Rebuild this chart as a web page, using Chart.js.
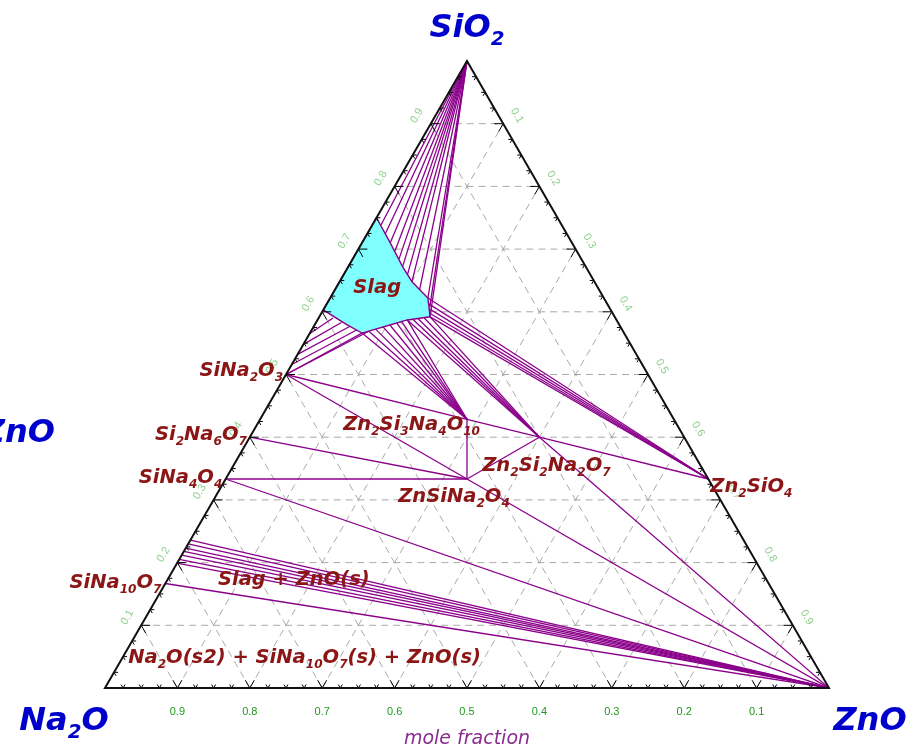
<!DOCTYPE html>
<html>
<head>
<meta charset="utf-8">
<script src="https://cdn.jsdelivr.net/npm/chart.js@4.4.1/dist/chart.umd.min.js"></script>
<style>
html,body{margin:0;padding:0;background:#fff;overflow:hidden;}
</style>
</head>
<body>
<canvas id="chart" width="922" height="749"></canvas>
<script>
// every composition is [ZnO, SiO2] in mole fraction, Na2O is what is left
const SIO2 = [0, 1];
const ZNO = [1, 0];
const SiNa2O3 = [0, 1/2];
const Si2Na6O7 = [0, 2/5];
const SiNa4O4 = [0, 1/3];
const SiNa10O7 = [0, 1/6];
const Zn2Si3Na4O10 = [2/7, 3/7];
const Zn2Si2Na2O7 = [0.4, 0.4];
const ZnSiNa2O4 = [1/3, 1/3];
const Zn2SiO4 = [2/3, 1/3];

// liquid (slag) field boundary
const slagBoundary = [
  [0, 0.75], [0.039, 0.71], [0.075, 0.672], [0.1, 0.648], [0.135, 0.622],
  [0.153, 0.592], [0.124, 0.587], [0.104, 0.579], [0.072, 0.566],
  [0.045, 0.579], [0, 0.603]
];

// tie line ends on the slag boundary, one list per solid they go to
const silicaTieEnds = [
  [0.012, 0.738], [0.025, 0.724], [0.039, 0.71], [0.052, 0.697], [0.064, 0.684],
  [0.075, 0.672], [0.088, 0.66], [0.1, 0.648], [0.117, 0.635], [0.135, 0.622],
  [0.145, 0.607], [0.153, 0.592]
];
const sina2o3TieEnds = [[0.072, 0.566], [0.08, 0.569]];
const zn2si3TieEnds = [
  [0.072, 0.566], [0.08, 0.569], [0.088, 0.572], [0.096, 0.576],
  [0.104, 0.579], [0.112, 0.582], [0.118, 0.584], [0.124, 0.587]
];
const zn2si2TieEnds = [[0.124, 0.587], [0.131, 0.588], [0.138, 0.589], [0.146, 0.59], [0.153, 0.592]];
const zn2sio4TieEnds = [[0.135, 0.622], [0.14, 0.613], [0.145, 0.605], [0.149, 0.598], [0.153, 0.592]];

// short ties from the lower slag edge back to the Na2O-SiO2 side
const slagSideTies = [
  [[0.02, 0.59], [0, 0.565]],
  [[0.035, 0.583], [0, 0.548]],
  [[0.05, 0.577], [0, 0.532]],
  [[0.062, 0.571], [0, 0.516]]
];

// Slag + ZnO(s): SiO2 of the liquid ends on the left side, all tied to ZnO
const slagZnoSilica = [0.199, 0.205, 0.212, 0.218, 0.223, 0.23, 0.236];

const compoundTies = [
  [SiNa2O3, Zn2Si3Na4O10],
  [SiNa2O3, ZnSiNa2O4],
  [Si2Na6O7, ZnSiNa2O4],
  [SiNa4O4, ZnSiNa2O4],
  [SiNa4O4, ZNO],
  [SiNa10O7, ZNO],
  [Zn2Si3Na4O10, ZnSiNa2O4],
  [Zn2Si3Na4O10, Zn2Si2Na2O7],
  [ZnSiNa2O4, Zn2Si2Na2O7],
  [ZnSiNa2O4, ZNO],
  [Zn2Si2Na2O7, ZNO],
  [Zn2Si2Na2O7, Zn2SiO4]
];

const gridSteps = [0.1, 0.2, 0.3, 0.4, 0.5, 0.6, 0.7, 0.8, 0.9];
const tickStep = 0.025;

// phase labels, placed in plot units (x across, y up)
const phaseLabels = [
  { text: "Slag", x: 0.376, y: 0.545, align: "center" },
  { text: "SiNa_2O_3", x: 0.246, y: 0.431, align: "right" },
  { text: "Si_2Na_6O_7", x: 0.196, y: 0.343, align: "right" },
  { text: "SiNa_4O_4", x: 0.162, y: 0.283, align: "right" },
  { text: "SiNa_{10}O_7", x: 0.078, y: 0.138, align: "right" },
  { text: "Zn_2Si_3Na_4O_{10}", x: 0.329, y: 0.356, align: "left" },
  { text: "Zn_2Si_2Na_2O_7", x: 0.521, y: 0.300, align: "left" },
  { text: "ZnSiNa_2O_4", x: 0.405, y: 0.257, align: "left" },
  { text: "Zn_2SiO_4", x: 0.836, y: 0.271, align: "left" },
  { text: "Slag + ZnO(s)", x: 0.156, y: 0.142, align: "left" },
  { text: "Na_2O(s2) + SiNa_{10}O_7(s) + ZnO(s)", x: 0.032, y: 0.035, align: "left" }
];

const H = Math.sqrt(3) / 2;
const tern = c => ({ x: c[0] + c[1] / 2, y: c[1] * H });

const PURPLE = "#8b008b";
const segments = [];
silicaTieEnds.forEach(p => segments.push([p, SIO2]));
sina2o3TieEnds.forEach(p => segments.push([p, SiNa2O3]));
zn2si3TieEnds.forEach(p => segments.push([p, Zn2Si3Na4O10]));
zn2si2TieEnds.forEach(p => segments.push([p, Zn2Si2Na2O7]));
zn2sio4TieEnds.forEach(p => segments.push([p, Zn2SiO4]));
slagSideTies.forEach(s => segments.push(s));
slagZnoSilica.forEach(s => segments.push([[0, s], ZNO]));
compoundTies.forEach(s => segments.push(s));

const datasets = segments.map(s => ({
  data: s.map(tern),
  showLine: true,
  borderColor: PURPLE,
  borderWidth: 1.3,
  pointRadius: 0,
  fill: false
}));
datasets.push({
  data: slagBoundary.concat([slagBoundary[0]]).map(tern),
  showLine: true,
  borderColor: PURPLE,
  borderWidth: 1.4,
  pointRadius: 0,
  fill: false
});

function richText(ctx, str, x, y, size, align, font) {
  const segs = [];
  let cur = "", i = 0;
  while (i < str.length) {
    if (str[i] === "_") {
      if (cur) { segs.push({ t: cur, sub: false }); cur = ""; }
      i++;
      let s = "";
      if (str[i] === "{") {
        i++;
        while (str[i] !== "}") { s += str[i]; i++; }
        i++;
      } else { s = str[i]; i++; }
      segs.push({ t: s, sub: true });
    } else { cur += str[i]; i++; }
  }
  if (cur) segs.push({ t: cur, sub: false });
  const fnt = sz => font.replace("SIZE", sz + "px");
  let w = 0;
  segs.forEach(g => {
    ctx.font = fnt(g.sub ? size * 0.62 : size);
    g.w = ctx.measureText(g.t).width;
    w += g.w;
  });
  let cx = align === "right" ? x - w : align === "center" ? x - w / 2 : x;
  ctx.textAlign = "left";
  ctx.textBaseline = "alphabetic";
  segs.forEach(g => {
    ctx.font = fnt(g.sub ? size * 0.62 : size);
    ctx.fillText(g.t, cx, g.sub ? y + size * 0.25 : y);
    cx += g.w;
  });
}

const ternaryFrame = {
  id: "ternaryFrame",
  beforeDatasetsDraw(chart) {
    const { ctx, scales: { x, y } } = chart;
    const P = c => { const t = tern(c); return [x.getPixelForValue(t.x), y.getPixelForValue(t.y)]; };
    ctx.save();
    // grid
    ctx.strokeStyle = "#a9a9a9";
    ctx.lineWidth = 1;
    ctx.setLineDash([7, 5]);
    gridSteps.forEach(v => {
      [[[0, v], [1 - v, v]], [[v, 0], [v, 1 - v]], [[1 - v, 0], [0, 1 - v]]].forEach(l => {
        const a = P(l[0]), b = P(l[1]);
        ctx.beginPath(); ctx.moveTo(a[0], a[1]); ctx.lineTo(b[0], b[1]); ctx.stroke();
      });
    });
    ctx.setLineDash([]);
    // slag field
    ctx.fillStyle = "#80ffff";
    ctx.beginPath();
    slagBoundary.forEach((c, i) => { const p = P(c); i ? ctx.lineTo(p[0], p[1]) : ctx.moveTo(p[0], p[1]); });
    ctx.closePath();
    ctx.fill();
    ctx.restore();
  },
  afterDatasetsDraw(chart) {
    const { ctx, scales: { x, y } } = chart;
    const P = c => { const t = tern(c); return [x.getPixelForValue(t.x), y.getPixelForValue(t.y)]; };
    const A = P(SIO2), L = P([0, 0]), R = P(ZNO);
    ctx.save();
    // ticks
    ctx.strokeStyle = "#000";
    ctx.lineWidth = 1;
    const c60 = 0.5, s60 = H;
    for (let k = 1; k < 40; k++) {
      const v = k * tickStep;
      const len = k % 4 === 0 ? 9 : 4;
      const edges = [
        [P([v, 0]), [[c60, -s60], [-c60, -s60]]],
        [P([0, v]), [[1, 0], [c60, s60]]],
        [P([v, 1 - v]), [[-1, 0], [-c60, s60]]]
      ];
      edges.forEach(e => {
        e[1].forEach(d => {
          ctx.beginPath();
          ctx.moveTo(e[0][0], e[0][1]);
          ctx.lineTo(e[0][0] + d[0] * len, e[0][1] + d[1] * len);
          ctx.stroke();
        });
      });
    }
    // frame
    ctx.lineWidth = 2;
    ctx.strokeStyle = "#111";
    ctx.beginPath();
    ctx.moveTo(A[0], A[1]); ctx.lineTo(L[0], L[1]); ctx.lineTo(R[0], R[1]); ctx.closePath();
    ctx.stroke();

    // tick labels
    ctx.textAlign = "center";
    ctx.textBaseline = "middle";
    gridSteps.forEach(v => {
      ctx.font = '11px "Liberation Sans", Arial, sans-serif';
      ctx.fillStyle = "#1d9a1d";
      const b = P([1 - v, 0]);
      ctx.fillText(v.toFixed(1), b[0], b[1] + 24);

      ctx.fillStyle = "#8fd18f";
      const l = P([0, v]);
      ctx.save();
      ctx.translate(l[0] - 0.866 * 16, l[1] - 0.5 * 16);
      ctx.rotate(-Math.PI / 3);
      ctx.fillText(v.toFixed(1), 0, 0);
      ctx.restore();

      const r = P([v, 1 - v]);
      ctx.save();
      ctx.translate(r[0] + 0.866 * 16, r[1] - 0.5 * 16);
      ctx.rotate(Math.PI / 3);
      ctx.fillText(v.toFixed(1), 0, 0);
      ctx.restore();
    });

    // phase labels
    ctx.fillStyle = "#8c1616";
    const labelFont = 'italic bold SIZE "DejaVu Sans", Verdana, sans-serif';
    phaseLabels.forEach(lb => {
      richText(ctx, lb.text, x.getPixelForValue(lb.x), y.getPixelForValue(lb.y), 19.5, lb.align, labelFont);
    });

    // corner titles
    ctx.fillStyle = "#0000cc";
    const titleFont = 'italic bold SIZE "DejaVu Sans", Verdana, sans-serif';
    richText(ctx, "SiO_2", A[0], A[1] - 24, 32, "center", titleFont);
    richText(ctx, "Na_2O", L[0] - 41, L[1] + 42, 32, "center", titleFont);
    richText(ctx, "ZnO", R[0] + 41, R[1] + 42, 32, "center", titleFont);
    richText(ctx, "ZnO", 55, 442, 32, "right", titleFont);

    ctx.fillStyle = "#8a2c90";
    ctx.font = 'italic 19px "DejaVu Sans", Verdana, sans-serif';
    ctx.textAlign = "center";
    ctx.textBaseline = "alphabetic";
    ctx.fillText("mole fraction", (L[0] + R[0]) / 2, L[1] + 56);
    ctx.restore();
  }
};

new Chart(document.getElementById("chart"), {
  type: "scatter",
  data: { datasets: datasets },
  options: {
    responsive: false,
    animation: false,
    devicePixelRatio: 1,
    layout: { padding: { left: 105, right: 93, top: 61, bottom: 61 } },
    scales: {
      x: { type: "linear", min: 0, max: 1, display: false },
      y: { type: "linear", min: 0, max: H, display: false }
    },
    plugins: { legend: { display: false }, tooltip: { enabled: false } }
  },
  plugins: [ternaryFrame]
});
</script>
</body>
</html>
